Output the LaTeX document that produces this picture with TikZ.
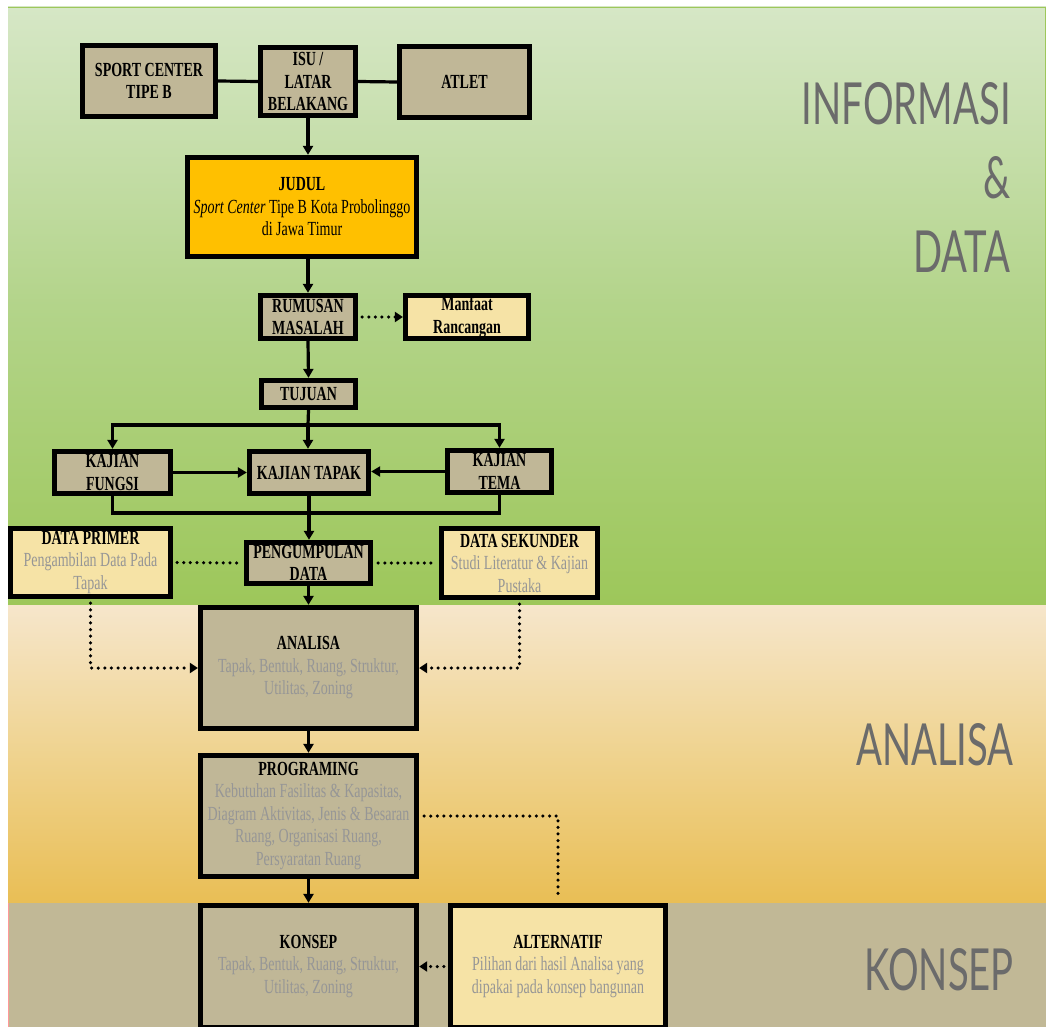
\documentclass[tikz,border=0pt]{standalone}
\usepackage{fontspec}
\setmainfont{Liberation Serif}[FakeStretch=0.70]
\newfontfamily\lblfont{Lato}[FakeStretch=0.66]
\usetikzlibrary{arrows.meta}
\definecolor{khaki}{HTML}{C0B797}
\definecolor{lyel}{HTML}{F6E3A6}
\definecolor{gold}{HTML}{FFC000}
\definecolor{gtext}{HTML}{969696}
\definecolor{lbltext}{HTML}{6B6B6B}
\definecolor{gtop}{HTML}{D6E7C6}
\definecolor{gmid}{HTML}{B3D48A}
\definecolor{gbot}{HTML}{9DC75A}
\definecolor{atop}{HTML}{F6E6CB}
\definecolor{amid}{HTML}{EFD38F}
\definecolor{abot}{HTML}{E9BE55}
\definecolor{kband}{HTML}{C1B896}
\newcommand{\gt}[1]{{\mdseries\color{gtext}#1}}
\newcommand{\md}[1]{{\mdseries #1}}
\begin{document}
\begin{tikzpicture}[x=1pt,y=-1pt,
  box/.style={draw=black, line width=4.8pt, inner sep=0pt, align=center,
    font=\fontsize{20}{22.5}\selectfont\bfseries},
  kbox/.style={box, fill=khaki},
  ybox/.style={box, fill=lyel},
  ln/.style={line width=3.2pt, line cap=rect},
  arr/.style={line width=3.2pt, -{Triangle[length=9pt,width=10pt]}},
  dotln/.style={line width=3.5pt, line cap=round, dash pattern=on 0pt off 6.6pt},
  dotarr/.style={dotln, -{Triangle[length=8pt,width=10pt]}},
  lbl/.style={font=\lblfont\fontsize{58}{60}\selectfont, text=lbltext, inner sep=0pt, anchor=base east},
]
\useasboundingbox (0,0) rectangle (1046,1027);
\fill[white] (0,0) rectangle (1046,1027);
% bands
\shade[top color=gtop, bottom color=gbot, middle color=gmid] (8,7) rectangle (1046,605);
\draw[line width=1pt, color=gbot] (8,7.5) -- (1045.5,7.5) -- (1045.5,605);
\shade[top color=atop, bottom color=abot, middle color=amid] (8,605) rectangle (1046,903);
\fill[kband] (8,903) rectangle (1046,1027);
\draw[line width=1.2pt, color=red!40] (8.6,903) -- (8.6,1027);

% labels
\node[lbl] (linfo) at (1011,125) {INFORMASI};
\node[lbl] (lamp) at (1011,198) {\&};
\node[lbl] (ldata) at (1011,272) {DATA};
\node[lbl] (lana) at (1014,765) {ANALISA};
\node[lbl] (lkon) at (1014,990) {KONSEP};

% nodes
\node[kbox, minimum width=133.5pt, minimum height=71.5pt] (sc) at (149,81) {SPORT CENTER\\TIPE B};
\node[kbox, minimum width=95.5pt, minimum height=68.5pt] (isu) at (308,81.5) {ISU /\\LATAR\\BELAKANG};
\node[kbox, minimum width=130.5pt, minimum height=71.5pt] (atlet) at (464.5,82) {ATLET};
\node[box, fill=gold, minimum width=229.5pt, minimum height=99.5pt] (judul) at (302,207)
  {JUDUL\\\md{\textit{Sport Center} Tipe B Kota Probolinggo}\\\md{di Jawa Timur}};
\node[kbox, minimum width=95.5pt, minimum height=43.5pt] (rum) at (308,317) {RUMUSAN\\MASALAH};
\node[ybox, minimum width=123.5pt, minimum height=43.5pt] (manf) at (467,317) {Manfaat\\Rancangan};
\node[kbox, minimum width=94.5pt, minimum height=27.5pt] (tuj) at (308.5,394) {TUJUAN};
\node[kbox, minimum width=116.5pt, minimum height=42.5pt] (kf) at (112.5,472.5) {KAJIAN\\FUNGSI};
\node[kbox, minimum width=119.5pt, minimum height=42.5pt] (kt) at (309,472.5) {KAJIAN TAPAK};
\node[kbox, minimum width=104.5pt, minimum height=42.5pt] (ktm) at (499.5,471.5) {KAJIAN\\TEMA};
\node[ybox, minimum width=160.5pt, minimum height=68.5pt] (dp) at (90.5,562.5)
  {DATA PRIMER\\\gt{Pengambilan Data Pada}\\\gt{Tapak}};
\node[kbox, minimum width=124.5pt, minimum height=41.5pt] (pd) at (308.5,563) {PENGUMPULAN\\DATA};
\node[ybox, minimum width=156.5pt, minimum height=69.5pt] (ds) at (519.5,563)
  {DATA SEKUNDER\\\gt{Studi Literatur \& Kajian}\\\gt{Pustaka}};
\node[kbox, minimum width=216.5pt, minimum height=121.5pt] (an) at (308.5,668)
  {ANALISA\\\gt{Tapak, Bentuk, Ruang, Struktur,}\\\gt{Utilitas, Zoning}};
\node[kbox, minimum width=216.5pt, minimum height=121.5pt] (pr) at (308.5,816)
  {PROGRAMING\\\gt{Kebutuhan Fasilitas \& Kapasitas,}\\\gt{Diagram Aktivitas, Jenis \& Besaran}\\\gt{Ruang, Organisasi Ruang,}\\\gt{Persyaratan Ruang}};
\node[kbox, minimum width=216.5pt, minimum height=122.5pt] (ko) at (308.5,966.5)
  {KONSEP\\\gt{Tapak, Bentuk, Ruang, Struktur,}\\\gt{Utilitas, Zoning}};
\node[ybox, minimum width=215.5pt, minimum height=122.5pt] (alt) at (558,966.5)
  {ALTERNATIF\\\gt{Pilihan dari hasil Analisa yang}\\\gt{dipakai pada konsep bangunan}};

% connectors
\draw[ln] (sc.east) -- (isu.west);
\draw[ln] (isu.east) -- (atlet.west);
\draw[arr] (isu.south) -- (isu.south |- judul.north);
\draw[arr] (rum.north |- judul.south) -- (rum.north);
\draw[dotarr, shorten <=4pt] (rum.east) -- (manf.west);
\draw[arr] (rum.south) -- (tuj.north);
\coordinate (split) at (308,425);
\draw[ln] (tuj.south) -- (split);
\draw[ln] (kf.north |- split) -- (ktm.north |- split);
\draw[arr] (kf.north |- split) -- (kf.north);
\draw[arr] (split) -- (split |- kt.north);
\draw[arr] (ktm.north |- split) -- (ktm.north);
\draw[arr] (kf.east) -- (kt.west);
\draw[arr] (ktm.west) -- (ktm.west -| kt.east);
\coordinate (join) at (308,513);
\draw[ln] (kf.south) -- (kf.south |- join) -- (ktm.south |- join) -- (ktm.south);
\draw[arr] (kt.south) -- (kt.south |- pd.north);
\draw[dotln, shorten <=4pt, shorten >=5pt] (dp.east) -- (pd.west);
\draw[dotln, shorten <=5pt, shorten >=4pt] (pd.east) -- (ds.west);
\draw[arr] (pd.south) -- (pd.south |- an.north);
\draw[dotarr, shorten <=4pt] (dp.south) |- (an.west);
\draw[dotarr, shorten <=4pt] (ds.south) |- (an.east);
\draw[arr] (an.south) -- (pr.north);
\draw[arr] (pr.south) -- (ko.north);
\draw[dotln, shorten <=5pt, shorten >=4pt] (pr.east) -| (alt.north);
\draw[dotarr, shorten <=4pt] (alt.west) -- (alt.west -| ko.east);
\end{tikzpicture}
\end{document}
